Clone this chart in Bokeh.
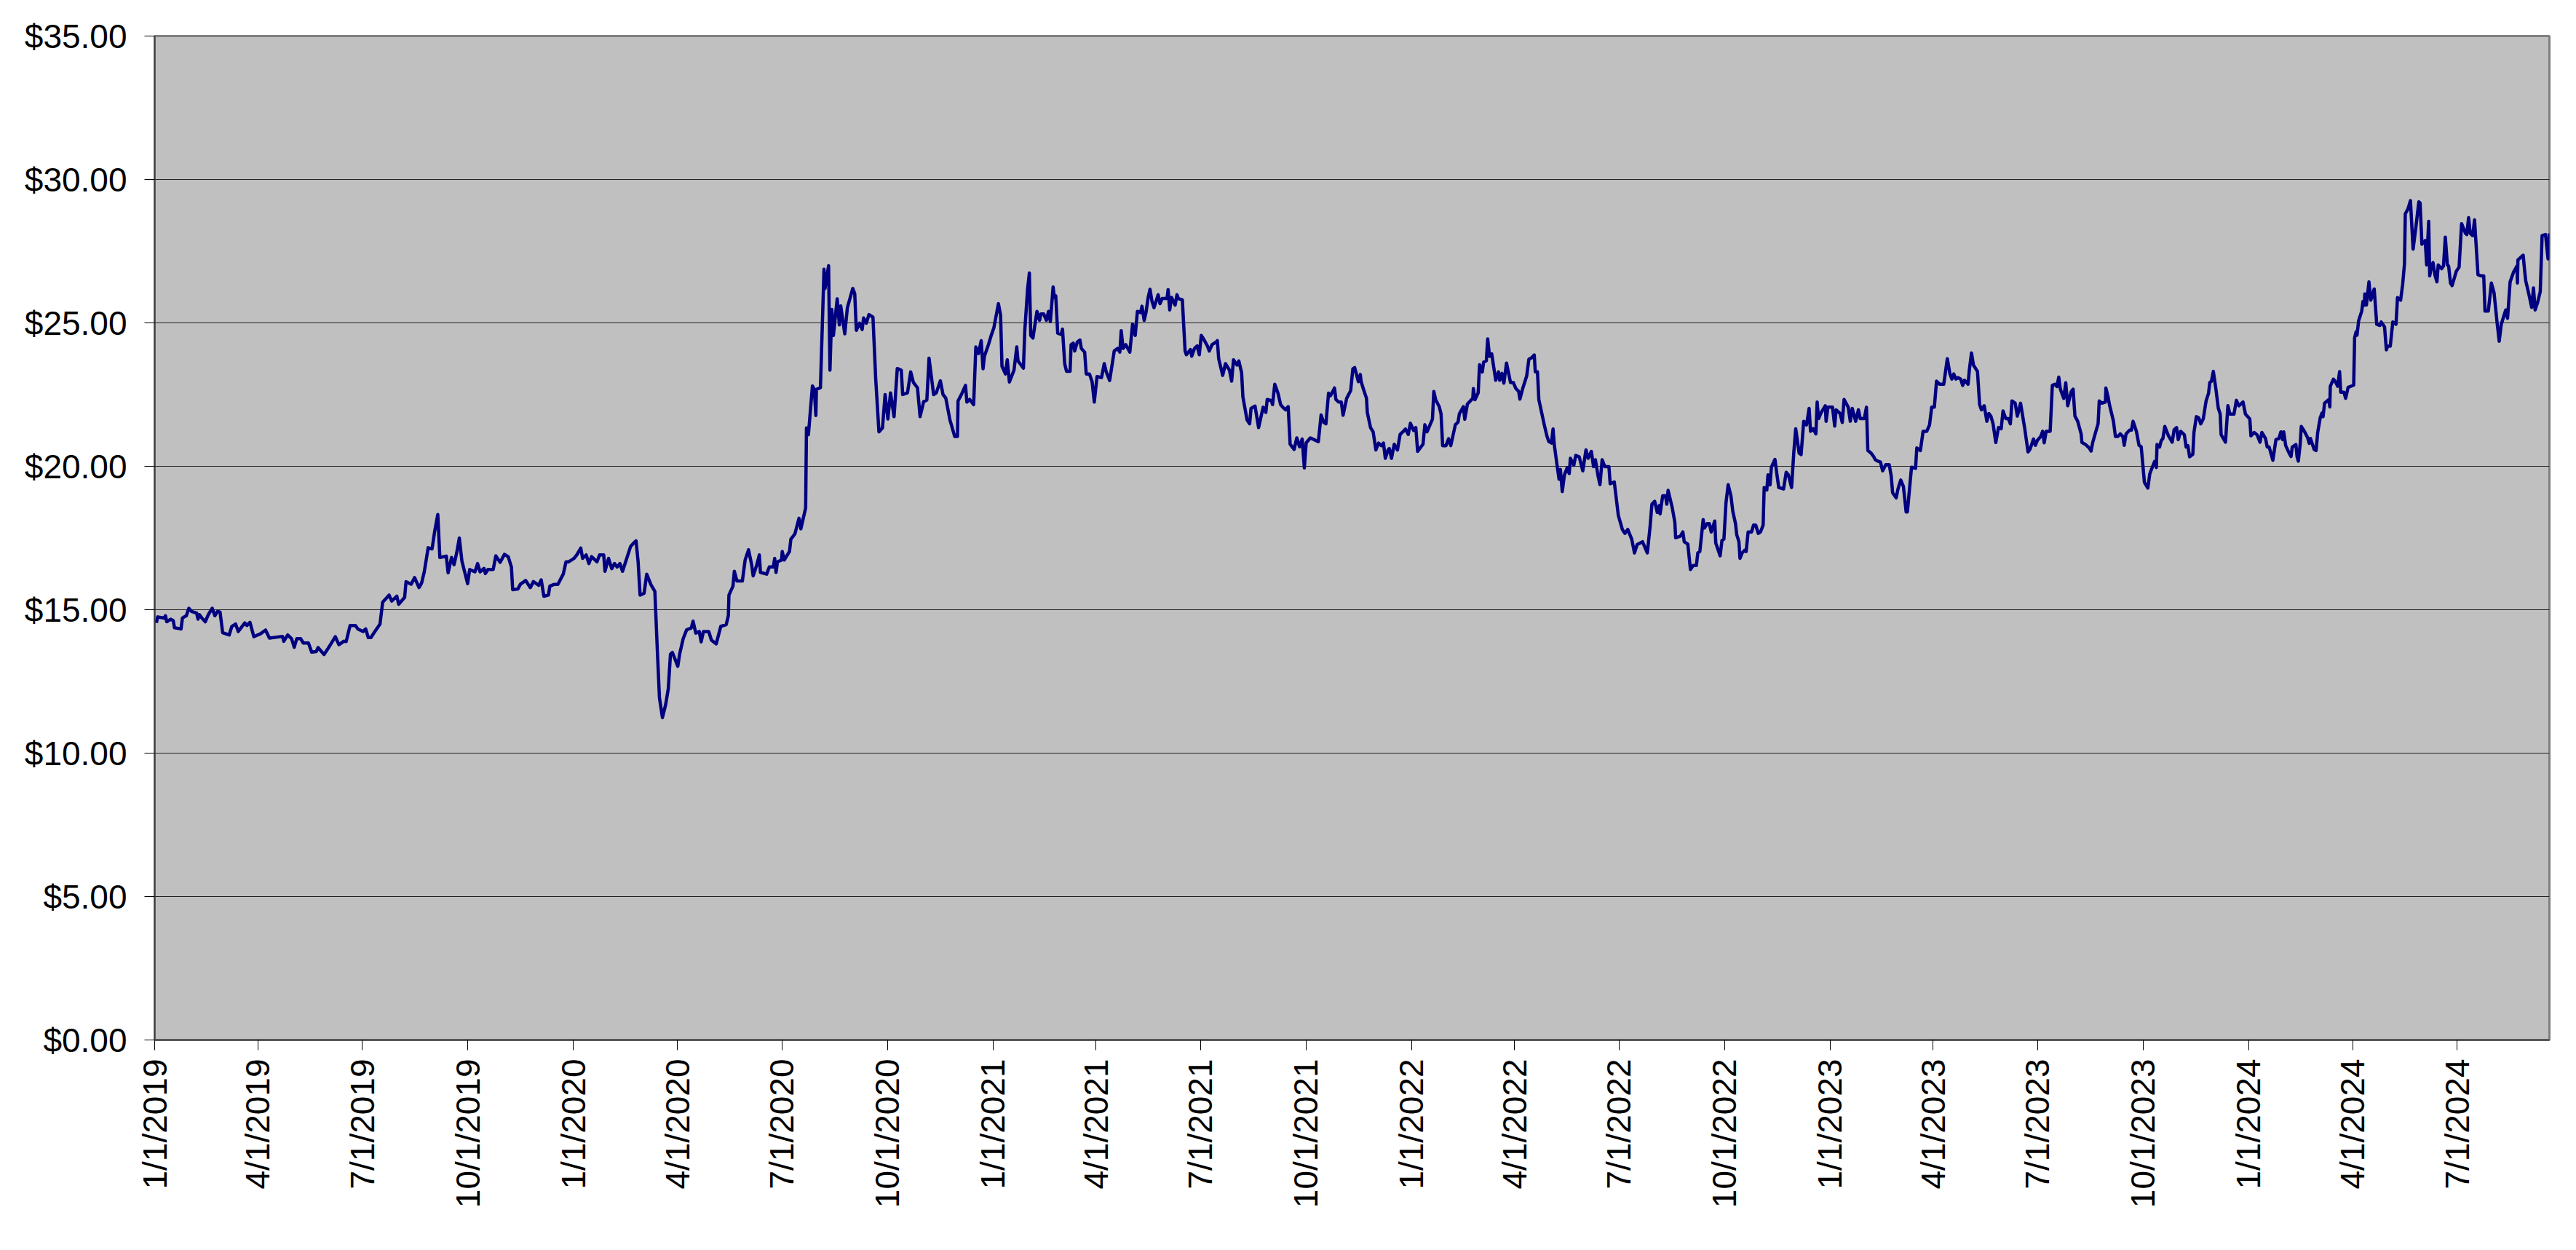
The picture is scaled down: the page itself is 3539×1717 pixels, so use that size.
import math
import pandas as pd
from bokeh.plotting import figure
from bokeh.models import Range1d, FixedTicker, NumeralTickFormatter
from bokeh.embed import file_html
from bokeh.resources import INLINE

# (days since 1/1/2019, closing price in $)
prices_2019 = [
    (1.5, 14.54), (2.6, 14.75), (8.3, 14.71), (9.4, 14.79), (10.5, 14.58), (13.9, 14.67), (16.2, 14.62),
    (17.3, 14.37), (23.0, 14.33), (24.2, 14.71), (27.6, 14.79), (29.8, 15.05), (32.1, 14.94), (36.6, 14.88),
    (37.8, 14.67), (38.9, 14.83), (41.2, 14.71), (44.1, 14.58), (46.8, 14.83), (50.2, 15.05), (52.5, 14.79),
    (54.8, 14.94), (57.0, 14.92), (59.3, 14.20), (65.0, 14.12), (67.2, 14.41), (70.6, 14.50), (72.9, 14.24),
    (78.6, 14.54), (80.4, 14.45), (83.1, 14.56), (86.5, 14.06), (92.2, 14.16), (96.7, 14.29), (100.1, 14.01),
    (111.5, 14.07), (112.6, 13.90), (116.0, 14.12), (119.4, 13.99), (121.7, 13.69), (123.9, 13.99),
    (127.3, 13.99), (129.6, 13.84), (134.1, 13.84), (136.9, 13.52), (140.9, 13.54), (142.5, 13.68),
    (147.7, 13.44), (151.2, 13.65), (154.5, 13.86), (157.5, 14.06), (160.7, 13.78), (164.8, 13.90),
    (167.0, 13.89), (170.4, 14.45), (175.0, 14.45), (177.2, 14.33), (181.8, 14.24), (184.0, 14.33),
    (186.3, 14.03), (188.6, 14.03), (192.0, 14.24), (196.5, 14.50), (198.8, 15.26), (204.4, 15.51),
    (206.7, 15.30), (211.2, 15.47), (212.8, 15.19), (218.0, 15.43), (219.2, 15.98), (223.7, 15.89),
    (226.7, 16.12), (230.5, 15.77), (232.8, 15.93), (235.1, 16.32), (238.5, 17.16), (241.9, 17.12),
    (244.1, 17.71), (246.9, 18.32), (248.7, 16.82), (254.3, 16.87), (255.9, 16.29), (258.9, 16.82),
    (261.1, 16.57), (263.4, 16.99), (265.7, 17.50), (267.9, 16.70), (272.9, 15.91), (274.7, 16.40),
    (279.3, 16.32), (281.6, 16.61), (283.8, 16.32), (287.2, 16.44), (288.4, 16.26), (290.6, 16.40),
    (295.2, 16.40), (297.5, 16.88), (301.3, 16.65), (305.0, 16.93), (308.3, 16.85), (311.1, 16.49),
    (312.2, 15.70), (316.7, 15.72), (319.0, 15.89), (323.5, 16.02), (327.6, 15.77), (330.3, 15.98),
    (334.9, 15.85), (337.1, 16.04), (339.4, 15.47), (343.4, 15.51), (344.6, 15.82), (348.1, 15.88),
    (351.6, 15.88), (356.3, 16.24), (358.7, 16.67), (361.0, 16.67), (363.4, 16.73),
]

prices_2020 = [
    (365.7, 16.79), (368.1, 16.91), (371.6, 17.15), (373.2, 16.79), (376.3, 16.91), (378.7, 16.61),
    (381.0, 16.85), (385.7, 16.67), (388.0, 16.91), (391.6, 16.91), (392.7, 16.34), (395.8, 16.79),
    (398.6, 16.43), (401.0, 16.61), (403.3, 16.49), (405.7, 16.61), (408.0, 16.34), (415.1, 17.21),
    (417.4, 17.31), (419.8, 17.40), (421.6, 16.67), (423.3, 15.51), (426.8, 15.57), (429.1, 16.24),
    (432.7, 15.88), (436.2, 15.64), (438.5, 13.45), (440.2, 11.93), (442.8, 11.24), (445.6, 11.69),
    (447.9, 12.24), (449.8, 13.45), (451.5, 13.51), (456.2, 13.03), (457.8, 13.45), (460.9, 13.99),
    (463.9, 14.30), (467.9, 14.36), (469.5, 14.60), (471.9, 14.18), (474.9, 14.24), (476.6, 13.88),
    (478.5, 14.24), (483.2, 14.24), (485.5, 13.94), (489.7, 13.81), (493.7, 14.42), (498.4, 14.48),
    (500.3, 14.79), (500.8, 15.51), (504.3, 15.82), (505.5, 16.34), (507.8, 16.00), (512.5, 16.00),
    (514.9, 16.73), (517.9, 17.09), (520.7, 16.55), (521.9, 16.18), (525.0, 16.55), (527.3, 16.91),
    (528.3, 16.30), (533.7, 16.24), (536.0, 16.49), (539.5, 16.49), (540.7, 16.79), (541.9, 16.30),
    (543.1, 16.67), (546.6, 16.73), (547.3, 17.03), (549.0, 16.73), (553.6, 17.03), (554.8, 17.46),
    (558.3, 17.64), (561.9, 18.19), (563.5, 17.82), (567.7, 18.55), (568.4, 21.34), (570.1, 21.10),
    (573.6, 22.80), (575.2, 22.68), (576.6, 21.77), (577.1, 22.68), (580.6, 22.74), (583.7, 26.87),
    (584.6, 26.20), (587.7, 26.99), (588.9, 23.35), (590.5, 25.47), (591.9, 24.56), (595.2, 25.84),
    (597.1, 24.93), (598.3, 25.59), (601.8, 24.62), (604.1, 25.53), (608.8, 26.20), (610.5, 26.02),
    (611.9, 24.74), (614.7, 24.99), (617.0, 24.77), (618.2, 25.17), (620.6, 24.99), (622.9, 25.29),
    (626.4, 25.20), (628.8, 23.04), (631.6, 21.20), (634.7, 21.34), (637.0, 22.50), (639.4, 21.65),
    (641.7, 22.56), (644.8, 21.73), (647.6, 23.41), (651.1, 23.35), (652.3, 22.50), (656.5, 22.56),
    (659.3, 23.29), (661.7, 22.92), (665.2, 22.74), (667.5, 21.73), (670.6, 22.25), (673.4, 22.31),
    (675.3, 23.77), (679.3, 22.50), (681.6, 22.56), (685.2, 22.98), (687.5, 22.50), (689.9, 22.38),
    (693.5, 21.62), (697.7, 21.04), (700.1, 21.04), (700.6, 22.28), (703.6, 22.51), (707.1, 22.82),
    (708.3, 22.24), (710.7, 22.33), (714.2, 22.15), (716.1, 24.16), (718.4, 23.93), (720.8, 24.38),
    (722.4, 23.40), (723.6, 23.84), (727.1, 24.24), (729.5, 24.56),
]

prices_2021 = [
    (731.8, 24.82), (735.8, 25.67), (737.7, 25.27), (738.9, 23.49), (741.9, 23.22), (743.5, 23.71),
    (745.4, 22.94), (749.4, 23.35), (751.8, 24.16), (752.9, 23.67), (757.6, 23.42), (758.8, 24.73),
    (761.2, 26.16), (762.8, 26.74), (764.0, 24.56), (765.9, 24.47), (769.4, 25.40), (771.7, 25.09),
    (772.9, 25.31), (775.3, 25.31), (777.6, 25.09), (779.5, 25.40), (781.1, 25.05), (783.5, 26.25),
    (784.6, 25.89), (785.8, 25.94), (787.5, 24.64), (790.5, 24.60), (791.7, 24.78), (793.6, 23.58),
    (795.2, 23.31), (798.3, 23.31), (799.2, 24.24), (801.1, 24.29), (802.3, 24.02), (804.6, 24.33),
    (806.9, 24.40), (808.1, 24.11), (811.0, 23.98), (812.4, 23.22), (815.2, 23.22), (817.5, 22.95),
    (819.4, 22.24), (821.8, 23.13), (825.7, 23.09), (828.1, 23.58), (829.7, 23.31), (832.8, 22.99),
    (835.1, 23.58), (836.8, 24.02), (839.8, 24.11), (841.7, 23.98), (842.9, 24.73), (844.5, 24.11),
    (846.9, 24.24), (850.4, 23.98), (852.8, 24.96), (855.1, 24.56), (857.0, 25.40), (859.8, 25.36),
    (861.0, 25.58), (862.9, 25.09), (864.5, 25.36), (866.4, 25.89), (868.0, 26.17), (869.7, 25.76),
    (871.5, 25.53), (875.1, 25.98), (876.7, 25.67), (878.6, 25.85), (882.8, 25.85), (883.8, 26.16),
    (885.2, 25.45), (886.8, 25.89), (889.9, 25.62), (891.5, 25.98), (892.7, 25.85), (896.2, 25.80),
    (897.4, 24.91), (898.6, 24.02), (899.7, 23.89), (903.3, 24.07), (904.4, 23.84), (906.8, 24.11),
    (909.1, 24.20), (911.0, 23.89), (912.7, 24.56), (915.0, 24.42), (918.0, 24.20), (919.7, 24.02),
    (922.1, 24.24), (925.6, 24.33), (926.7, 24.38), (927.9, 23.75), (931.4, 23.17), (933.8, 23.58),
    (937.3, 23.35), (939.2, 22.97), (940.8, 23.71), (943.9, 23.53), (945.5, 23.67), (947.9, 23.26),
    (949.0, 22.42), (952.6, 21.62), (954.9, 21.48), (956.1, 22.02), (959.6, 22.10), (962.7, 21.35),
    (966.7, 22.06), (969.0, 21.88), (970.2, 22.33), (973.7, 22.29), (974.9, 22.15), (976.8, 22.86),
    (979.6, 22.55), (981.9, 22.15), (983.8, 22.06), (986.2, 21.97), (988.5, 22.08), (990.2, 20.77),
    (993.7, 20.59), (996.0, 20.99), (998.4, 20.68), (1000.7, 20.95), (1002.6, 19.94), (1004.2, 20.82),
    (1007.8, 20.99), (1014.8, 20.86), (1017.2, 21.79), (1019.5, 21.53), (1021.4, 21.48), (1023.7, 22.55),
    (1025.4, 22.46), (1028.9, 22.73), (1030.1, 22.33), (1032.4, 22.24), (1034.8, 22.24), (1036.4, 21.78),
    (1039.5, 22.37), (1043.0, 22.64), (1044.9, 23.40), (1046.5, 23.44), (1049.7, 22.95), (1051.4, 23.20),
    (1052.1, 22.95), (1054.4, 22.66), (1056.8, 22.37), (1057.5, 21.88), (1060.3, 21.35), (1062.6, 21.20),
    (1065.0, 20.57), (1067.3, 20.81), (1069.7, 20.72), (1071.6, 20.81), (1073.2, 20.28), (1075.6, 20.57),
    (1076.7, 20.62), (1078.6, 20.28), (1081.0, 20.77), (1083.8, 20.57), (1086.1, 21.11), (1088.5, 21.20),
    (1090.8, 21.30), (1093.2, 21.11),
]

prices_2022 = [
    (1095.1, 21.50), (1097.9, 21.25), (1099.8, 21.35), (1101.4, 20.52), (1106.1, 20.77), (1107.7, 21.45),
    (1109.6, 21.20), (1114.3, 21.64), (1115.5, 22.61), (1117.1, 22.32), (1120.2, 22.08), (1121.8, 21.83),
    (1123.2, 20.72), (1126.1, 20.72), (1128.4, 20.96), (1130.3, 20.72), (1134.3, 21.45), (1136.6, 21.54),
    (1137.8, 21.83), (1141.3, 22.08), (1142.5, 21.64), (1144.8, 22.17), (1149.5, 22.37), (1150.0, 22.71),
    (1151.4, 22.32), (1154.2, 22.56), (1155.4, 23.54), (1157.8, 23.29), (1158.9, 23.63), (1161.3, 23.68),
    (1162.5, 24.44), (1164.1, 23.83), (1166.0, 23.92), (1169.5, 23.00), (1171.9, 23.29), (1173.0, 23.00),
    (1174.9, 23.24), (1176.6, 22.90), (1178.9, 23.60), (1182.4, 22.92), (1184.8, 22.92), (1187.1, 22.71),
    (1189.5, 22.61), (1190.6, 22.34), (1193.0, 22.71), (1196.5, 23.15), (1198.4, 23.73), (1200.7, 23.78),
    (1203.1, 23.88), (1204.0, 23.29), (1205.9, 23.29), (1207.1, 22.32), (1211.8, 21.45), (1214.1, 21.06),
    (1215.8, 20.86), (1218.1, 20.81), (1219.5, 21.30), (1220.5, 20.77), (1222.8, 20.09), (1224.7, 19.55),
    (1225.9, 19.89), (1227.5, 19.12), (1229.4, 19.70), (1231.7, 19.94), (1233.6, 19.75), (1234.6, 20.28),
    (1237.6, 20.04), (1239.3, 20.38), (1242.3, 20.33), (1245.4, 19.84), (1248.2, 20.57), (1250.1, 20.28),
    (1252.9, 20.52), (1254.8, 19.99), (1256.4, 20.23), (1258.8, 19.65), (1260.4, 19.36), (1262.3, 20.23),
    (1264.6, 19.99), (1268.2, 19.99), (1269.3, 19.39), (1272.9, 19.45), (1276.4, 18.29), (1279.9, 17.80),
    (1282.2, 17.66), (1284.6, 17.80), (1288.1, 17.46), (1290.5, 16.98), (1292.8, 17.27), (1297.5, 17.37),
    (1301.7, 16.98), (1304.1, 17.90), (1305.7, 18.68), (1308.1, 18.78), (1310.4, 18.39), (1312.1, 18.63),
    (1312.8, 18.34), (1315.1, 18.97), (1317.5, 18.97), (1318.7, 18.68), (1319.8, 19.16), (1323.3, 18.58),
    (1325.7, 18.05), (1326.4, 17.51), (1330.4, 17.56), (1332.7, 17.71), (1333.9, 17.37), (1337.0, 17.29),
    (1339.3, 16.40), (1341.7, 16.54), (1344.5, 16.54), (1345.7, 16.98), (1347.5, 17.03), (1350.4, 18.14),
    (1351.5, 17.85), (1353.9, 18.00), (1355.8, 18.00), (1357.4, 17.71), (1360.5, 18.09), (1361.4, 17.32),
    (1365.2, 16.88), (1366.8, 17.42), (1368.5, 17.46), (1370.3, 18.73), (1372.2, 19.36), (1374.6, 18.97),
    (1376.2, 18.44), (1378.6, 18.00), (1379.7, 17.61), (1381.6, 17.37), (1382.5, 16.79), (1384.4, 16.98),
    (1386.8, 17.08), (1387.9, 17.03), (1389.6, 17.71), (1392.6, 17.71), (1394.3, 17.95), (1396.2, 17.95),
    (1398.5, 17.66), (1400.4, 17.71), (1402.7, 17.95), (1403.6, 19.26), (1405.9, 19.17), (1406.9, 19.70),
    (1408.7, 19.35), (1409.9, 19.97), (1413.0, 20.24), (1414.6, 19.75), (1416.3, 19.26), (1420.5, 19.21),
    (1422.8, 19.79), (1424.7, 19.70), (1427.5, 19.26), (1429.4, 20.46), (1431.1, 21.31), (1434.1, 20.46),
    (1435.8, 20.41), (1438.1, 21.57), (1440.5, 21.44), (1442.8, 22.02), (1444.0, 21.22), (1446.3, 21.31),
    (1448.7, 21.13), (1449.8, 22.24), (1451.0, 21.66), (1453.4, 21.88), (1456.9, 22.11), (1457.6, 21.57),
    (1459.2, 22.06),
]

prices_2023 = [
    (1463.2, 22.06), (1465.1, 21.40), (1466.3, 21.97), (1469.8, 21.84), (1471.7, 21.53), (1473.3, 22.33),
    (1476.9, 22.06), (1478.7, 21.57), (1480.4, 22.02), (1483.4, 21.57), (1485.8, 21.97), (1487.4, 21.66),
    (1490.9, 21.66), (1492.8, 22.06), (1494.0, 20.55), (1496.8, 20.46), (1499.2, 20.33), (1500.3, 20.24),
    (1502.2, 20.19), (1505.0, 20.15), (1506.9, 19.84), (1509.7, 20.06), (1512.6, 20.06), (1514.4, 19.66),
    (1515.6, 19.08), (1518.7, 18.90), (1520.3, 19.21), (1522.7, 19.52), (1525.0, 19.30), (1527.4, 18.41),
    (1528.5, 18.41), (1532.1, 19.97), (1535.6, 19.93), (1536.7, 20.64), (1539.8, 20.55), (1542.2, 21.22),
    (1545.4, 21.22), (1547.8, 21.44), (1549.7, 22.06), (1552.0, 22.06), (1553.9, 22.97), (1556.7, 22.86),
    (1560.2, 22.86), (1563.3, 23.75), (1565.6, 23.22), (1567.3, 23.04), (1568.9, 23.22), (1570.8, 23.04),
    (1572.7, 23.09), (1575.0, 23.04), (1576.7, 22.82), (1578.3, 23.00), (1581.4, 22.86), (1582.5, 23.35),
    (1584.4, 23.95), (1586.1, 23.53), (1589.6, 23.31), (1591.5, 22.15), (1593.1, 21.97), (1595.5, 22.11),
    (1597.8, 21.57), (1599.5, 21.84), (1601.3, 21.75), (1603.2, 21.48), (1605.6, 20.83), (1607.9, 21.35),
    (1610.3, 21.31), (1611.9, 21.93), (1614.3, 21.66), (1616.6, 21.66), (1618.3, 21.48), (1619.7, 22.28),
    (1622.5, 22.20), (1624.4, 21.75), (1627.2, 22.20), (1630.7, 21.35), (1633.7, 20.50), (1635.4, 20.59),
    (1638.5, 20.95), (1640.1, 20.73), (1641.8, 20.90), (1644.8, 21.04), (1646.4, 21.22), (1647.8, 20.82),
    (1649.5, 21.22), (1653.0, 21.22), (1654.9, 22.82), (1657.2, 22.86), (1658.9, 22.78), (1660.5, 23.11),
    (1661.9, 22.69), (1664.8, 22.37), (1666.6, 22.91), (1668.3, 22.11), (1671.3, 22.60), (1673.0, 22.69),
    (1674.6, 21.75), (1677.0, 21.57), (1680.0, 21.13), (1680.7, 20.83), (1683.5, 20.77), (1687.1, 20.64),
    (1688.7, 20.53), (1690.1, 20.83), (1692.9, 21.22), (1694.8, 21.48), (1695.8, 22.28), (1698.1, 22.20),
    (1701.2, 22.24), (1701.6, 22.73), (1703.5, 22.42), (1704.7, 22.15), (1708.2, 21.57), (1709.9, 21.04),
    (1712.1, 21.04), (1714.1, 21.13), (1716.4, 21.04), (1717.6, 20.73), (1719.2, 21.13), (1722.3, 21.26),
    (1723.9, 21.26), (1725.3, 21.57), (1728.2, 21.22), (1730.5, 20.73), (1732.4, 20.68), (1735.2, 19.44),
    (1738.2, 19.24), (1739.9, 19.74), (1742.4, 20.00), (1744.1, 20.17), (1745.6, 19.96), (1746.2, 20.76),
    (1748.4, 20.67), (1749.8, 20.89), (1751.3, 20.97), (1753.0, 21.39), (1756.2, 21.06), (1759.4, 20.84),
    (1761.1, 21.27), (1763.2, 21.35), (1764.7, 20.93), (1766.8, 21.22), (1770.0, 21.10), (1771.6, 20.67),
    (1773.1, 20.72), (1774.6, 20.33), (1777.4, 20.42), (1778.4, 21.18), (1780.5, 21.73), (1782.6, 21.69),
    (1784.3, 21.48), (1786.5, 21.65), (1789.0, 22.28), (1791.1, 22.54), (1792.2, 22.92), (1793.6, 22.96),
    (1795.3, 23.31), (1797.5, 22.71), (1799.6, 22.03), (1801.3, 21.82), (1802.1, 21.10), (1805.9, 20.84),
    (1808.0, 22.11), (1809.7, 21.82), (1813.3, 21.82), (1815.4, 22.30), (1817.6, 22.11), (1821.2, 22.24),
    (1823.3, 21.82),
]

prices_2024 = [
    (1827.1, 21.65), (1828.1, 21.06), (1830.9, 21.18), (1833.4, 21.10), (1836.0, 20.84), (1837.6, 21.18),
    (1840.8, 20.97), (1842.3, 20.67), (1844.0, 20.67), (1847.2, 20.21), (1849.9, 20.93), (1852.5, 20.97),
    (1854.2, 21.20), (1855.7, 20.93), (1856.7, 21.20), (1858.4, 20.72), (1861.4, 20.46), (1863.1, 20.34),
    (1864.1, 20.67), (1867.3, 20.76), (1868.3, 20.34), (1869.4, 20.18), (1871.1, 20.80), (1872.0, 21.39),
    (1874.7, 21.22), (1877.4, 21.01), (1878.9, 20.80), (1880.0, 20.97), (1883.2, 20.59), (1884.9, 20.55),
    (1886.3, 21.18), (1888.5, 21.69), (1890.1, 21.86), (1891.0, 21.73), (1892.3, 22.20), (1895.9, 22.32),
    (1896.9, 22.07), (1897.3, 22.79), (1900.1, 23.04), (1902.2, 22.92), (1903.7, 22.79), (1905.4, 23.30),
    (1906.4, 22.58), (1909.2, 22.58), (1910.7, 22.37), (1912.8, 22.75), (1917.7, 22.83), (1918.5, 24.48),
    (1919.8, 24.69), (1920.6, 24.57), (1922.0, 25.07), (1924.7, 25.41), (1925.8, 25.75), (1927.0, 25.62),
    (1927.4, 26.01), (1928.8, 25.62), (1931.0, 26.43), (1932.6, 25.79), (1935.6, 26.18), (1937.8, 24.95),
    (1940.5, 24.91), (1941.7, 25.03), (1944.6, 24.86), (1946.2, 24.06), (1947.3, 24.19), (1949.6, 24.19),
    (1951.8, 25.03), (1954.6, 24.95), (1955.9, 25.88), (1958.6, 25.79), (1960.4, 26.34), (1962.0, 27.06),
    (1962.7, 28.80), (1965.0, 28.97), (1967.2, 29.26), (1969.5, 27.57), (1971.8, 28.29), (1974.5, 29.22),
    (1975.6, 29.18), (1977.2, 27.74), (1980.1, 27.87), (1981.3, 27.02), (1983.1, 28.54), (1984.0, 26.64),
    (1985.8, 27.02), (1986.9, 27.10), (1988.5, 26.68), (1990.3, 26.43), (1991.4, 27.02), (1994.4, 26.89),
    (1996.0, 26.98), (1997.6, 27.99), (1999.4, 27.02), (2000.5, 26.98), (2002.1, 26.39), (2003.5, 26.30),
    (2007.3, 26.81), (2009.6, 26.94), (2011.8, 28.46), (2015.2, 28.12), (2016.3, 28.08), (2017.9, 28.67),
    (2019.3, 28.12), (2021.5, 28.04), (2023.1, 28.59), (2026.1, 26.68), (2028.8, 26.64), (2031.1, 26.64),
    (2032.2, 25.41), (2035.1, 25.41), (2037.8, 26.39), (2040.1, 26.05), (2042.8, 24.99), (2044.6, 24.36),
    (2046.4, 24.95), (2050.3, 25.45), (2051.9, 25.16), (2054.1, 26.43), (2057.1, 26.77), (2060.0, 26.98),
    (2060.5, 26.39), (2060.9, 27.19), (2065.5, 27.36), (2066.8, 26.81), (2067.7, 26.47), (2070.7, 25.96),
    (2072.9, 25.54), (2074.5, 26.22), (2075.9, 25.45), (2078.1, 25.71), (2080.4, 26.09), (2082.0, 28.04),
    (2085.0, 28.08), (2087.2, 27.23), (2088.4, 28.12),
]

tick_dates = [
    "2019-01-01", "2019-04-01", "2019-07-01", "2019-10-01",
    "2020-01-01", "2020-04-01", "2020-07-01", "2020-10-01",
    "2021-01-01", "2021-04-01", "2021-07-01", "2021-10-01",
    "2022-01-01", "2022-04-01", "2022-07-01", "2022-10-01",
    "2023-01-01", "2023-04-01", "2023-07-01", "2023-10-01",
    "2024-01-01", "2024-04-01", "2024-07-01",
]
tick_labels = [
    "1/1/2019", "4/1/2019", "7/1/2019", "10/1/2019",
    "1/1/2020", "4/1/2020", "7/1/2020", "10/1/2020",
    "1/1/2021", "4/1/2021", "7/1/2021", "10/1/2021",
    "1/1/2022", "4/1/2022", "7/1/2022", "10/1/2022",
    "1/1/2023", "4/1/2023", "7/1/2023", "10/1/2023",
    "1/1/2024", "4/1/2024", "7/1/2024",
]
y_ticks = [0, 5, 10, 15, 20, 25, 30, 35]

# ---- build series ----
all_points = prices_2019 + prices_2020 + prices_2021 + prices_2022 + prices_2023 + prices_2024
base = pd.Timestamp("2019-01-01")
days = [d for d, _ in all_points]
price = [p for _, p in all_points]
dates = base + pd.to_timedelta(days, unit="D")

tick_ms = [int(pd.Timestamp(t).value // 10**6) for t in tick_dates]
x_start_ms = tick_ms[0]
x_end_ms = int(dates.max().value // 10**6)

FONT = "Liberation Sans"

p = figure(
    x_axis_type="datetime",
    frame_width=3290, frame_height=1379,
    min_border_left=212, min_border_top=49, min_border_right=29, min_border_bottom=262,
    x_range=Range1d(x_start_ms, x_end_ms), y_range=Range1d(0, 35),
    output_backend="svg", toolbar_location=None,
    background_fill_color="#C0C0C0", border_fill_color="white",
)
p.outline_line_color = "#808080"
p.outline_line_width = 3

p.line(x=dates, y=price, line_color="#000080", line_width=4.5, line_join="round")

# x axis
xa = p.xaxis[0]
xa.ticker = FixedTicker(ticks=tick_ms)
xa.major_label_overrides = {t: lab for t, lab in zip(tick_ms, tick_labels)}
xa.major_label_orientation = math.pi / 2
xa.major_label_text_font = FONT
xa.major_label_text_font_size = "46px"
xa.major_label_text_color = "black"
xa.major_label_standoff = 12
xa.major_tick_out = 14
xa.major_tick_in = 0
xa.major_tick_line_color = "black"
xa.minor_tick_line_color = None
xa.axis_line_color = "#404040"
xa.axis_line_width = 2

# y axis
ya = p.yaxis[0]
ya.ticker = FixedTicker(ticks=y_ticks)
ya.formatter = NumeralTickFormatter(format="$0.00")
ya.major_label_text_font = FONT
ya.major_label_text_font_size = "46px"
ya.major_label_text_color = "black"
ya.major_label_standoff = 24
ya.major_tick_out = 14
ya.major_tick_in = 0
ya.major_tick_line_color = "black"
ya.minor_tick_line_color = None
ya.axis_line_color = "#404040"
ya.axis_line_width = 2

p.xgrid.grid_line_color = None
p.ygrid.ticker = FixedTicker(ticks=y_ticks)
p.ygrid.grid_line_color = "#222222"
p.ygrid.grid_line_width = 1.2

open("out.html", "w").write(file_html(p, INLINE))
